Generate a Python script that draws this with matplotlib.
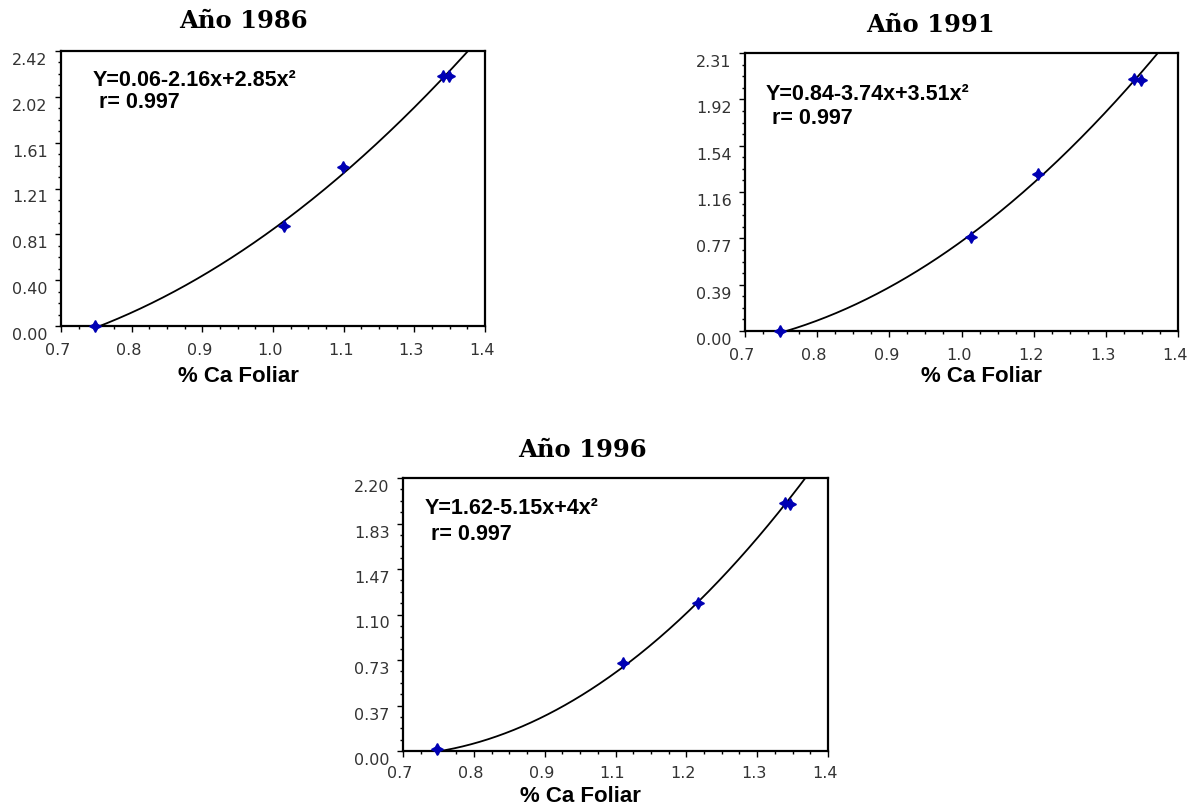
#Ca foliar - ajuste cuadratico por año
import numpy as np
import matplotlib
matplotlib.use('Agg')
import matplotlib.pyplot as plt
from matplotlib.ticker import AutoMinorLocator
from matplotlib.transforms import ScaledTranslation

titulos = ['Año 1986', 'Año 1991', 'Año 1996']
ecuaciones = ['Y=0.06-2.16x+2.85x²', 'Y=0.84-3.74x+3.51x²', 'Y=1.62-5.15x+4x²']
r_texto = [' r= 0.997', ' r= 0.997', ' r= 0.997']

#coeficientes (a, b, c) de Y = a + b x + c x^2
coef_1986 = [0.06, -2.16, 2.85]
coef_1991 = [0.84, -3.74, 3.51]
coef_1996 = [1.62, -5.15, 4.0]

#rango del eje x y maximo del eje y
xlim_1986 = [0.662, 1.394]
xlim_1991 = [0.674, 1.405]
xlim_1996 = [0.674, 1.432]
ymax = [2.42, 2.31, 2.20]

xticks_1986 = ['0.7', '0.8', '0.9', '1.0', '1.1', '1.3', '1.4']
xticks_1991 = ['0.7', '0.8', '0.9', '1.0', '1.2', '1.3', '1.4']
xticks_1996 = ['0.7', '0.8', '0.9', '1.1', '1.2', '1.3', '1.4']
yticks_1986 = ['0.00', '0.40', '0.81', '1.21', '1.61', '2.02', '2.42']
yticks_1991 = ['0.00', '0.39', '0.77', '1.16', '1.54', '1.92', '2.31']
yticks_1996 = ['0.00', '0.37', '0.73', '1.10', '1.47', '1.83', '2.20']

#puntos observados
x_1986 = [0.720, 1.047, 1.148, 1.322, 1.331]
y_1986 = [0.00, 0.883, 1.401, 2.198, 2.198]
x_1991 = [0.733, 1.056, 1.168, 1.331, 1.343]
y_1991 = [0.00, 0.780, 1.304, 2.094, 2.083]
x_1996 = [0.735, 1.067, 1.201, 1.355, 1.365]
y_1996 = [0.016, 0.707, 1.191, 1.997, 1.992]

W, H = 1197, 809
fig = plt.figure(figsize=(W / 100, H / 100), dpi=100)

def px(x, y):
    return x / W, 1 - y / H

#posicion de cada panel en pixeles: izq, arriba, der, abajo
cajas = [(61, 51, 485, 326), (745, 53, 1178, 331), (403, 478, 828, 751)]
pos_titulo = [(243, 21), (930, 25), (582, 450)]
pos_eq = [(93, 80, 103), (766, 94, 118), (425, 508, 535)]
pos_xlabel = [(238, 376), (981, 376), (580, 796)]
pad_x = [8, 8, 6]

datos = [
    (coef_1986, xlim_1986, xticks_1986, yticks_1986, x_1986, y_1986),
    (coef_1991, xlim_1991, xticks_1991, yticks_1991, x_1991, y_1991),
    (coef_1996, xlim_1996, xticks_1996, yticks_1996, x_1996, y_1996),
]

for i, (coef, xl, xt, yt, xs, ys) in enumerate(datos):
    l, t, r, b = cajas[i]
    ax = fig.add_axes([l / W, 1 - b / H, (r - l) / W, (b - t) / H])

    xx = np.linspace(xl[0], xl[1], 300)
    yy = coef[0] + coef[1] * xx + coef[2] * xx ** 2
    ax.plot(xx, yy, color='black', lw=1.3)
    ax.plot(xs, ys, ls='none', marker=(4, 1, 0), ms=8.5, color='#0000b4', clip_on=False, zorder=5)

    ax.set_xlim(xl)
    ax.set_ylim(0, ymax[i])
    ax.set_xticks(np.linspace(xl[0], xl[1], 7))
    ax.set_xticklabels(xt)
    ax.set_yticks(np.linspace(0, ymax[i], 7))
    ax.set_yticklabels(yt)
    ax.xaxis.set_minor_locator(AutoMinorLocator(4))
    ax.yaxis.set_minor_locator(AutoMinorLocator(4))
    ax.tick_params(which='major', direction='out', length=4.5, width=1, labelsize=11.5,
                   labelcolor='#333333')
    ax.tick_params(which='minor', direction='out', length=2.5, width=1)
    ax.tick_params(axis='x', pad=pad_x[i])
    ax.tick_params(axis='y', pad=5)
    for s in ax.spines.values():
        s.set_linewidth(1.6)

    #etiquetas un poco corridas como en el original
    dy = ScaledTranslation(0, -0.08, fig.dpi_scale_trans)
    for lab in ax.get_yticklabels():
        lab.set_transform(lab.get_transform() + dy)
    dx = ScaledTranslation(-0.03, 0, fig.dpi_scale_trans)
    for lab in ax.get_xticklabels():
        lab.set_transform(lab.get_transform() + dx)

    fig.text(*px(*pos_titulo[i]), titulos[i], ha='center', va='center',
             fontsize=17.5, fontweight='bold', family='DejaVu Serif')
    ex, ey1, ey2 = pos_eq[i]
    fig.text(*px(ex, ey1), ecuaciones[i], ha='left', va='center', fontsize=15.5,
             fontweight='bold', family='Liberation Sans')
    fig.text(*px(ex, ey2), r_texto[i], ha='left', va='center', fontsize=15.5,
             fontweight='bold', family='Liberation Sans')
    fig.text(*px(*pos_xlabel[i]), '% Ca Foliar', ha='center', va='center', fontsize=16,
             fontweight='bold', family='Liberation Sans')

plt.savefig('out.png', dpi=100)
